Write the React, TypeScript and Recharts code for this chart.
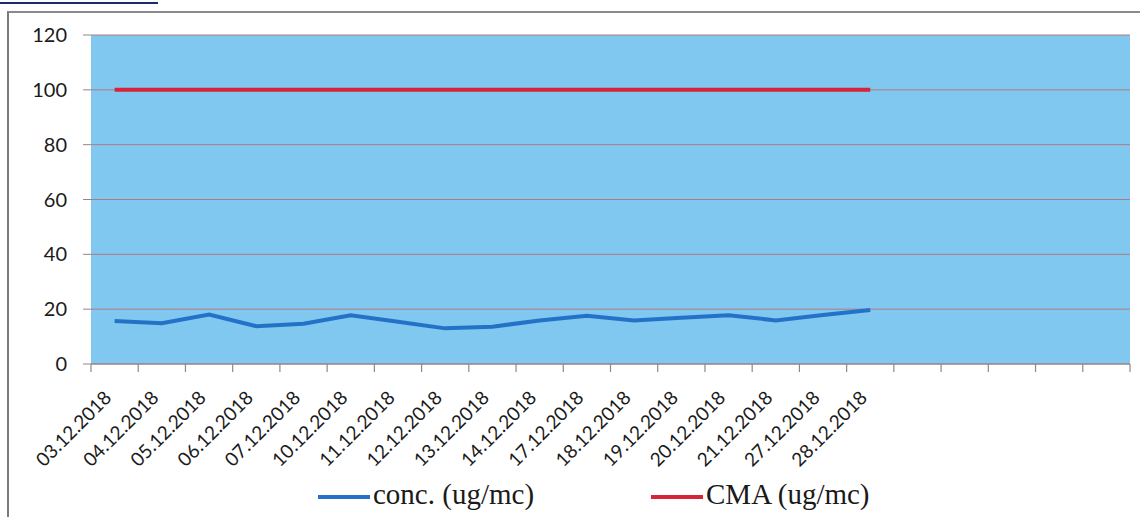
import React from "react";
import { LineChart, Line, XAxis, YAxis, CartesianGrid, Legend } from "recharts";

// dates that have a measurement
const dates = [
  "03.12.2018", "04.12.2018", "05.12.2018", "06.12.2018", "07.12.2018",
  "10.12.2018", "11.12.2018", "12.12.2018", "13.12.2018", "14.12.2018",
  "17.12.2018", "18.12.2018", "19.12.2018", "20.12.2018", "21.12.2018",
  "27.12.2018", "28.12.2018",
];
const conc = [15.7, 14.9, 18.0, 13.8, 14.7, 17.8, 15.4, 13.0, 13.6, 15.9, 17.6, 15.9, 16.9, 17.8, 15.9, 17.9, 19.7];
const cma = [100, 100, 100, 100, 100, 100, 100, 100, 100, 100, 100, 100, 100, 100, 100, 100, 100];
const yTicks = [0, 20, 40, 60, 80, 100, 120];
// the category axis has empty slots after the last date
const slotCount = 22;

const data = dates.map((d, i) => ({ x: i + 0.5, date: d, conc: conc[i], cma: cma[i] }));
const xTicks: number[] = [];
for (let i = 0; i <= slotCount * 2; i++) xTicks.push(i / 2);

const AXIS_GRAY = "#8a8a8a";

const DateTick = (props: any) => {
  const { x, y, payload } = props;
  const v = payload.value as number;
  if (Number.isInteger(v)) {
    return <line x1={x} y1={y} x2={x} y2={y + 8} stroke={AXIS_GRAY} strokeWidth={1.2} />;
  }
  const label = dates[Math.floor(v)] ?? "";
  if (!label) return null;
  const px = x - 2;
  const py = y + 35;
  return (
    <text
      x={px}
      y={py}
      textAnchor="end"
      fill="#1a1a1a"
      fontSize={19}
      fontFamily="Lato, sans-serif"
      transform={`rotate(-45 ${px} ${py})`}
    >
      {label}
    </text>
  );
};

const legendOrder = ["conc", "cma"];
const legendLefts = [318, 651];

const LegendContent = (props: any) => {
  const payload = props.payload || [];
  const items = legendOrder.map((k) => payload.find((p: any) => p.dataKey === k)).filter(Boolean);
  return (
    <div style={{ position: "relative", width: 1140, height: 40 }}>
      {items.map((it: any, i: number) => (
        <div
          key={i}
          style={{
            position: "absolute",
            left: legendLefts[i],
            top: 0,
            display: "flex",
            alignItems: "center",
            fontFamily: "'Liberation Serif', 'Times New Roman', serif",
            fontSize: 29,
            color: "#1a1a1a",
            whiteSpace: "nowrap",
          }}
        >
          <span style={{ display: "inline-block", width: 52, height: 4, background: it.color, marginRight: 3, marginTop: 4 }} />
          {it.value}
        </div>
      ))}
    </div>
  );
};

export default function App() {
  return (
    <div style={{ position: "absolute", left: 0, top: 0, width: 1140, height: 517, background: "#fff", overflow: "hidden" }}>
      <div style={{ position: "absolute", left: 0, top: 2, width: 158, height: 2, background: "#1d2b66" }} />
      <div
        style={{
          position: "absolute",
          left: 7,
          top: 11,
          width: 1140,
          height: 520,
          borderLeft: "2px solid #7a7a7a",
          borderTop: "2px solid #8a8a8a",
        }}
      />
      <LineChart width={1140} height={517} data={data} margin={{ top: 35, right: 10, bottom: 13, left: 31 }}>
        <CartesianGrid vertical={false} stroke="#b07a80" strokeWidth={1} fill="#80c8f0" fillOpacity={1} />
        <XAxis
          dataKey="x"
          type="number"
          domain={[0, slotCount]}
          ticks={xTicks}
          interval={0}
          tickSize={0}
          tickMargin={0}
          height={140}
          axisLine={{ stroke: AXIS_GRAY, strokeWidth: 1.2 }}
          tickLine={false}
          tick={<DateTick />}
        />
        <YAxis
          domain={[0, 120]}
          ticks={yTicks}
          interval={0}
          width={60}
          axisLine={false}
          tickLine={{ stroke: AXIS_GRAY }}
          tickSize={8}
          tickMargin={16}
          tick={{ fill: "#1a1a1a", fontSize: 20, fontFamily: "Lato, sans-serif" }}
        />
        <Legend
          layout="horizontal"
          verticalAlign="middle"
          align="center"
          wrapperStyle={{ top: 478, left: 0, width: 1140 }}
          content={<LegendContent />}
        />
        <Line
          dataKey="conc"
          name="conc. (ug/mc)"
          stroke="#2472c8"
          strokeWidth={4}
          dot={false}
          type="linear"
          isAnimationActive={false}
        />
        <Line
          dataKey="cma"
          name="CMA (ug/mc)"
          stroke="#d8243a"
          strokeWidth={4}
          dot={false}
          type="linear"
          isAnimationActive={false}
        />
      </LineChart>
    </div>
  );
}
